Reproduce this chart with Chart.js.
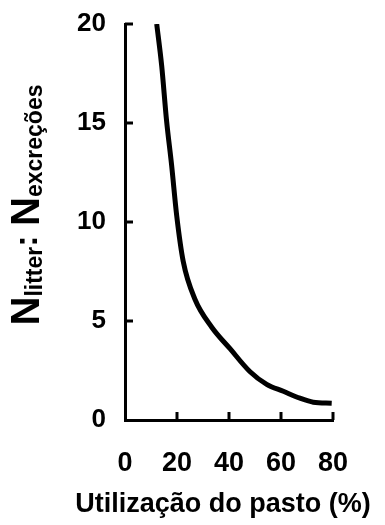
<!DOCTYPE html>
<html>
<head>
<meta charset="utf-8">
<script src="https://cdn.jsdelivr.net/npm/chart.js@4/dist/chart.umd.min.js"></script>
<style>
  html, body { margin: 0; padding: 0; background: #fff; }
  #wrap { width: 385px; height: 525px; }
</style>
</head>
<body>
<div id="wrap"><canvas id="ratioChart" width="385" height="525"></canvas></div>
<script>
const utilization = [12.2, 14.1, 16.0, 17.9, 19.9, 22.4, 26.9, 33.3, 40.4, 48.0, 54.5, 60.9, 67.3, 72.4, 79.5];
const ratio = [20, 17.9, 15.1, 12.9, 10.3, 8.0, 6.1, 4.7, 3.6, 2.45, 1.8, 1.45, 1.1, 0.9, 0.85];
const xTicks = [0, 20, 40, 60, 80];
const yTicks = [0, 5, 10, 15, 20];
const xTitle = 'Utilização do pasto (%)';

const fontFamily = '"Liberation Sans", Arial, sans-serif';

// tick marks point into the plot, like the original figure
const inwardTicks = {
    id: 'inwardTicks',
    afterDraw(chart) {
        const ctx = chart.ctx;
        const x = chart.scales.x, y = chart.scales.y;
        const area = chart.chartArea;
        ctx.save();
        ctx.strokeStyle = '#000';
        ctx.lineWidth = 3;
        ctx.lineCap = 'butt';
        yTicks.slice(1).forEach(v => {
            const py = y.getPixelForValue(v);
            ctx.beginPath();
            ctx.moveTo(area.left, py);
            ctx.lineTo(area.left + 8, py);
            ctx.stroke();
        });
        xTicks.slice(1).forEach(v => {
            const px = x.getPixelForValue(v);
            ctx.beginPath();
            ctx.moveTo(px, area.bottom);
            ctx.lineTo(px, area.bottom - 8);
            ctx.stroke();
        });
        ctx.restore();
    }
};

// axis titles drawn by hand (y one needs subscripts)
const axisTitles = {
    id: 'axisTitles',
    afterDraw(chart) {
        const ctx = chart.ctx;
        ctx.save();
        ctx.fillStyle = '#000';

        ctx.font = 'bold 27px ' + fontFamily;
        ctx.textAlign = 'center';
        ctx.textBaseline = 'middle';
        ctx.fillText(xTitle, 223, 505);

        const parts = [
            { t: 'N', size: 40, dy: 0 },
            { t: 'litter', size: 23, dy: 8 },
            { t: ': ', size: 34, dy: 0 },
            { t: 'N', size: 40, dy: 0 },
            { t: 'excreções', size: 23, dy: 8 }
        ];
        let total = 0;
        parts.forEach(p => {
            ctx.font = 'bold ' + p.size + 'px ' + fontFamily;
            p.w = ctx.measureText(p.t).width;
            total += p.w;
        });
        ctx.translate(28, 205);
        ctx.rotate(-Math.PI / 2);
        ctx.textAlign = 'left';
        let cx = -total / 2;
        parts.forEach(p => {
            ctx.font = 'bold ' + p.size + 'px ' + fontFamily;
            ctx.fillText(p.t, cx, p.dy);
            cx += p.w;
        });
        ctx.restore();
    }
};

new Chart(document.getElementById('ratioChart'), {
    type: 'scatter',
    data: {
        datasets: [{
            data: utilization.map((u, i) => ({ x: u, y: ratio[i] })),
            showLine: true,
            borderColor: '#000',
            borderWidth: 5,
            pointRadius: 0,
            cubicInterpolationMode: 'monotone',
            fill: false
        }]
    },
    options: {
        responsive: false,
        animation: false,
        layout: { padding: { left: 0, top: 24, right: 52, bottom: 0 } },
        plugins: {
            legend: { display: false },
            tooltip: { enabled: false }
        },
        scales: {
            x: {
                type: 'linear',
                min: 0,
                max: 80,
                afterFit: s => { s.height = 105; s.paddingLeft = 0; s.paddingRight = 0; },
                afterBuildTicks: s => { s.ticks = xTicks.map(v => ({ value: v })); },
                grid: { display: false, drawTicks: false },
                border: { display: true, color: '#000', width: 3 },
                ticks: {
                    color: '#000',
                    padding: 27,
                    font: { family: fontFamily, size: 27, weight: 'bold' }
                }
            },
            y: {
                min: 0,
                max: 20,
                afterFit: s => { s.width = 125; s.paddingTop = 0; s.paddingBottom = 0; },
                afterBuildTicks: s => { s.ticks = yTicks.map(v => ({ value: v })); },
                grid: { display: false, drawTicks: false },
                border: { display: true, color: '#000', width: 3 },
                ticks: {
                    color: '#000',
                    padding: 19,
                    font: { family: fontFamily, size: 26, weight: 'bold' }
                }
            }
        }
    },
    plugins: [inwardTicks, axisTitles]
});
</script>
</body>
</html>
